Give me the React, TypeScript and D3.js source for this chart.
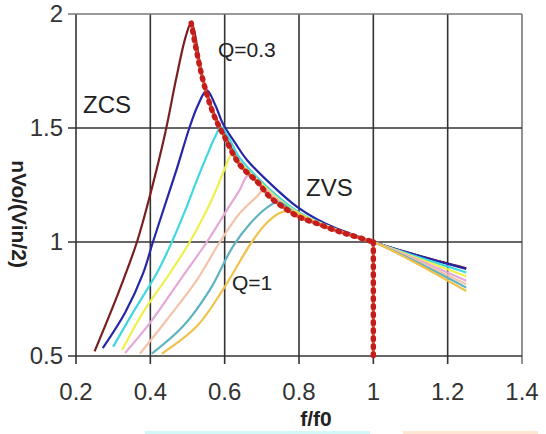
import React, { useEffect, useRef } from 'react';
import * as d3 from 'd3';

// axis ticks
const xTicks = [0.2, 0.4, 0.6, 0.8, 1, 1.2, 1.4];
const yTicks = [0.5, 1, 1.5, 2];

// gain curves, one per Q (f/f0, gain)
const q03 = [[0.25, 0.52], [0.31, 0.76], [0.364, 1.0], [0.40, 1.21], [0.439, 1.47], [0.47, 1.72], [0.495, 1.90], [0.51, 1.96], [0.54, 1.73], [0.57, 1.57], [0.60, 1.47], [0.64, 1.35], [0.69, 1.265], [0.76, 1.16], [0.80, 1.12], [0.85, 1.085], [0.90, 1.055], [0.95, 1.027], [1.0, 1.0], [1.1, 0.95], [1.25, 0.885]];
const q04 = [[0.272, 0.535], [0.332, 0.69], [0.38, 0.86], [0.407, 1.0], [0.439, 1.16], [0.471, 1.32], [0.505, 1.50], [0.528, 1.60], [0.552, 1.665], [0.575, 1.60], [0.595, 1.52], [0.63, 1.43], [0.66, 1.36], [0.73, 1.245], [0.794, 1.155], [0.848, 1.10], [0.90, 1.06], [0.95, 1.03], [1.0, 1.0], [1.1, 0.95], [1.25, 0.882]];
const q05 = [[0.30, 0.54], [0.353, 0.69], [0.418, 0.865], [0.458, 1.0], [0.498, 1.155], [0.525, 1.27], [0.55, 1.37], [0.574, 1.46], [0.59, 1.505], [0.61, 1.46], [0.64, 1.37], [0.69, 1.28], [0.75, 1.19], [0.80, 1.13], [0.85, 1.09], [0.90, 1.055], [0.95, 1.027], [1.0, 1.0], [1.1, 0.945], [1.25, 0.866]];
const q06 = [[0.324, 0.526], [0.38, 0.69], [0.453, 0.864], [0.506, 1.0], [0.552, 1.14], [0.576, 1.225], [0.60, 1.32], [0.62, 1.385], [0.645, 1.34], [0.69, 1.27], [0.75, 1.18], [0.80, 1.125], [0.85, 1.088], [0.90, 1.055], [0.95, 1.026], [1.0, 1.0], [1.1, 0.94], [1.25, 0.85]];
const q07 = [[0.332, 0.513], [0.399, 0.645], [0.48, 0.833], [0.552, 1.0], [0.606, 1.14], [0.641, 1.23], [0.662, 1.29], [0.69, 1.26], [0.75, 1.175], [0.80, 1.12], [0.85, 1.085], [0.90, 1.052], [0.95, 1.025], [1.0, 1.0], [1.1, 0.935], [1.25, 0.83]];
const q08 = [[0.372, 0.51], [0.445, 0.66], [0.525, 0.833], [0.587, 1.0], [0.641, 1.127], [0.687, 1.2], [0.707, 1.23], [0.75, 1.17], [0.80, 1.115], [0.85, 1.08], [0.90, 1.05], [0.95, 1.024], [1.0, 1.0], [1.1, 0.93], [1.25, 0.815]];
const q09 = [[0.404, 0.51], [0.488, 0.63], [0.56, 0.79], [0.622, 0.98], [0.668, 1.08], [0.713, 1.15], [0.745, 1.175], [0.80, 1.115], [0.85, 1.078], [0.90, 1.048], [0.95, 1.023], [1.0, 1.0], [1.1, 0.925], [1.25, 0.80]];
const q10 = [[0.431, 0.51], [0.525, 0.63], [0.595, 0.79], [0.673, 1.0], [0.713, 1.083], [0.748, 1.127], [0.78, 1.135], [0.85, 1.08], [0.90, 1.048], [0.95, 1.022], [1.0, 1.0], [1.1, 0.92], [1.25, 0.785]];

// ZCS / ZVS border (red dotted)
const boundary = [[0.51, 1.96], [0.54, 1.72], [0.57, 1.56], [0.60, 1.46], [0.64, 1.34], [0.69, 1.26], [0.72, 1.20], [0.76, 1.15], [0.80, 1.11], [0.85, 1.08], [0.90, 1.05], [0.95, 1.025], [1.0, 1.0]];
const boundaryDrop = [[1.0, 1.0], [1.0, 0.5]];

const curves = [q03, q04, q05, q06, q07, q08, q09, q10];
const curveColors = ['#7a1f1f', '#2626a8', '#40d8e0', '#eef04c', '#e6a8d8', '#f4c4aa', '#5fb4c0', '#f0c24c'];

const FONT = '"Liberation Sans", Arial, sans-serif';

function Chart() {
    const ref = useRef<SVGSVGElement>(null);

    useEffect(() => {
        drawChart();
    }, []);

    function drawChart() {
        const svg = d3.select(ref.current);
        svg.selectAll('*').remove();

        const x = d3.scaleLinear().domain([0.2, 1.4]).range([76, 522]);
        const y = d3.scaleLinear().domain([0.5, 2]).range([356, 14]);

        svg.append('rect').attr('width', 546).attr('height', 434).attr('fill', '#fff');

        // grid
        svg.append('g').selectAll('line').data(xTicks).enter().append('line')
            .attr('x1', d => x(d)).attr('x2', d => x(d))
            .attr('y1', y(2)).attr('y2', y(0.5) + 8)
            .attr('stroke', (d, i) => (i === xTicks.length - 1 ? '#777' : '#333'))
            .attr('stroke-width', 1.6);
        svg.append('g').selectAll('line').data(yTicks).enter().append('line')
            .attr('x1', x(0.2) - 8).attr('x2', x(1.4))
            .attr('y1', d => y(d)).attr('y2', d => y(d))
            .attr('stroke', (d, i) => (i === yTicks.length - 1 ? '#777' : '#333'))
            .attr('stroke-width', 1.6);

        // tick labels
        svg.append('g').selectAll('text').data(xTicks).enter().append('text')
            .attr('x', d => x(d)).attr('y', 400)
            .attr('text-anchor', 'middle')
            .attr('font-family', FONT).attr('font-size', 24).attr('fill', '#333')
            .text(d => String(d));
        svg.append('g').selectAll('text').data(yTicks).enter().append('text')
            .attr('x', 63).attr('y', d => y(d) + 8)
            .attr('text-anchor', 'end')
            .attr('font-family', FONT).attr('font-size', 24).attr('fill', '#333')
            .text(d => String(d));

        // curves
        const line = d3.line<number[]>()
            .x(d => x(d[0]))
            .y(d => y(d[1]))
            .curve(d3.curveCatmullRom.alpha(0.5));

        svg.append('g').selectAll('path').data(curves).enter().append('path')
            .attr('d', d => line(d))
            .attr('fill', 'none')
            .attr('stroke', (d, i) => curveColors[i])
            .attr('stroke-width', 2.2);

        // ZCS/ZVS boundary
        const straight = d3.line<number[]>().x(d => x(d[0])).y(d => y(d[1]));
        [line(boundary), straight(boundaryDrop)].forEach(p => {
            svg.append('path').attr('d', p).attr('fill', 'none')
                .attr('stroke', '#e4583f').attr('stroke-width', 3);
            svg.append('path').attr('d', p).attr('fill', 'none')
                .attr('stroke', '#c41e1c').attr('stroke-width', 5.5)
                .attr('stroke-linecap', 'round')
                .attr('stroke-dasharray', '1.5 6.5');
        });

        // annotations
        const notes = [
            { t: 'ZCS', x: 83, y: 113, s: 24 },
            { t: 'Q=0.3', x: 218, y: 57, s: 21 },
            { t: 'ZVS', x: 306, y: 196, s: 24 },
            { t: 'Q=1', x: 232, y: 290, s: 21 },
        ];
        svg.append('g').selectAll('text').data(notes).enter().append('text')
            .attr('x', d => d.x).attr('y', d => d.y)
            .attr('font-family', FONT).attr('font-size', d => d.s).attr('fill', '#222')
            .text(d => d.t);

        // axis titles
        svg.append('text')
            .attr('x', 316).attr('y', 426)
            .attr('text-anchor', 'middle')
            .attr('font-family', FONT).attr('font-size', 21).attr('font-weight', 'bold')
            .attr('fill', '#222')
            .text('f/f0');
        svg.append('text')
            .attr('transform', 'translate(12,214) rotate(90)')
            .attr('text-anchor', 'middle')
            .attr('font-family', FONT).attr('font-size', 21).attr('font-weight', 'bold')
            .attr('fill', '#222')
            .text('nVo/(Vin/2)');

        // faint strips along the bottom edge
        svg.append('rect').attr('x', 145).attr('y', 431).attr('width', 225).attr('height', 3).attr('fill', '#d2f8f8');
        svg.append('rect').attr('x', 403).attr('y', 431).attr('width', 135).attr('height', 3).attr('fill', '#fde6d2');
    }

    return <svg ref={ref} width={546} height={434} style={{ position: 'absolute', left: 0, top: 0 }} />;
}

export default function App() {
    return <Chart />;
}
